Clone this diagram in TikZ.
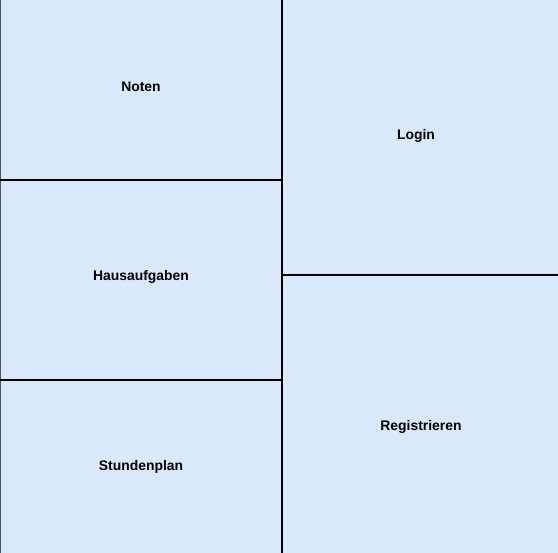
\documentclass[tikz,border=0pt]{standalone}
\usepackage{fontspec}
\setmainfont{Liberation Sans}
\definecolor{boxfill}{HTML}{DAE8FC}
\definecolor{edgegray}{HTML}{4A5566}
\begin{document}
\begin{tikzpicture}[x=1pt,y=-1pt,
  cell/.style={fill=boxfill,draw=none},
  divider/.style={draw=black,line width=2pt},
  lbl/.style={font=\bfseries\fontsize{13.9}{16}\selectfont,inner sep=0pt,anchor=center}]
\useasboundingbox (0,0) rectangle (558,553);
\fill[boxfill] (0,0) rectangle (558,553);
\coordinate (ml) at (0,180);
\coordinate (mm1) at (281,180);
\coordinate (ml2) at (0,380);
\coordinate (mm2) at (281,380);
\coordinate (vt) at (281.5,0);
\coordinate (vb) at (281.5,553);
\coordinate (rl) at (281,275);
\coordinate (rr) at (558,275);
\draw[edgegray,line width=1.2pt] (0.6,0) -- (0.6,553);
\draw[divider] (ml) -- (mm1);
\draw[divider] (ml2) -- (mm2);
\draw[divider] (rl) -- (rr);
\draw[divider] (vt) -- (vb);
\node[lbl] (noten) at (141,87) {Noten};
\node[lbl] (haus) at (141,277) {Hausaufgaben};
\node[lbl] (stunden) at (141,467) {Stundenplan};
\node[lbl] (login) at (416,136) {Login};
\node[lbl] (reg) at (421,427) {Registrieren};
\end{tikzpicture}
\end{document}
